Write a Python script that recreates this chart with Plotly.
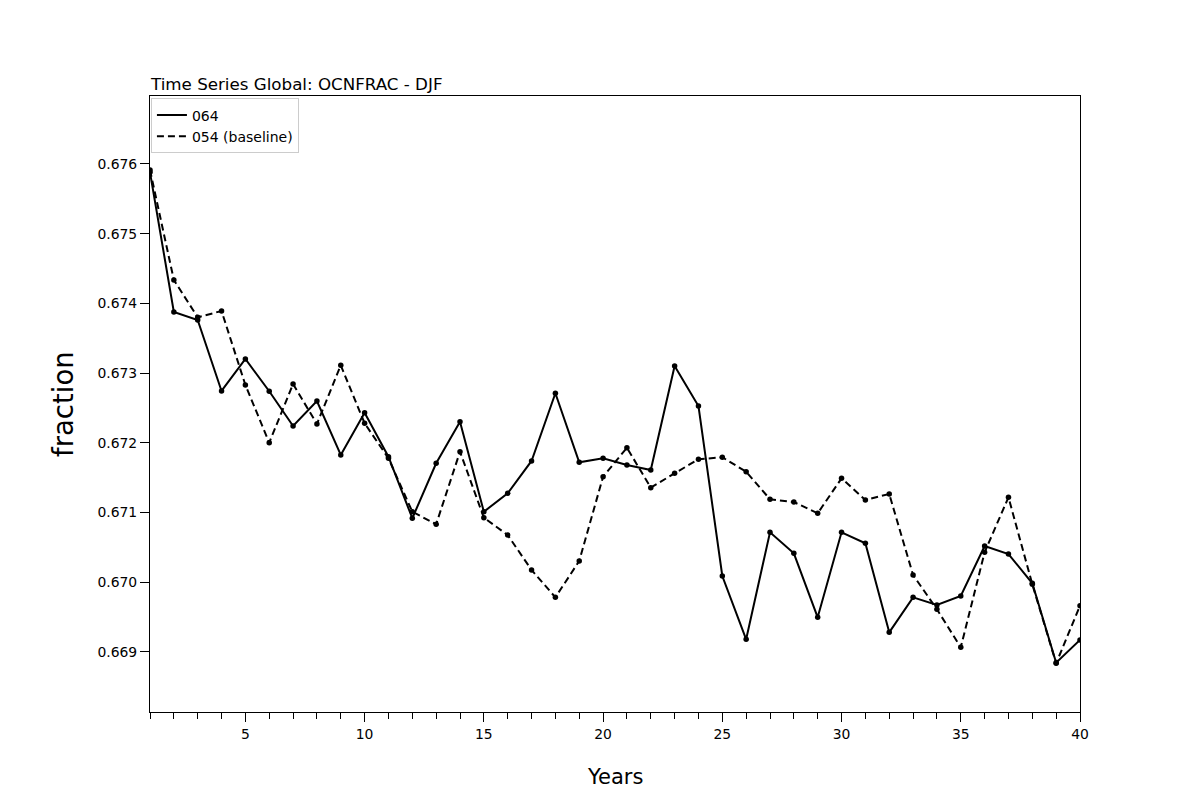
import plotly.graph_objects as go

years = list(range(1, 41))

run_064 = [0.67588, 0.673877, 0.673762, 0.672744, 0.673203, 0.672740, 0.672242, 0.672600,
           0.671826, 0.672432, 0.671801, 0.670918, 0.671707, 0.672303, 0.671012, 0.671276,
           0.671740, 0.672711, 0.671721, 0.671778, 0.671682, 0.671610, 0.673102, 0.672528,
           0.670090, 0.669182, 0.670717, 0.670415, 0.669497, 0.670717, 0.670559, 0.669282,
           0.669784, 0.669674, 0.669803, 0.670520, 0.670405, 0.669985, 0.668846, 0.669172]

run_054 = [0.675914, 0.674336, 0.673801, 0.673891, 0.672830, 0.672002, 0.672844, 0.672270,
           0.673112, 0.672280, 0.671778, 0.671012, 0.670832, 0.671873, 0.670926, 0.670678,
           0.670176, 0.669784, 0.670305, 0.671514, 0.671930, 0.671357, 0.671563, 0.671764,
           0.671793, 0.671586, 0.671190, 0.671151, 0.670989, 0.671491, 0.671180, 0.671266,
           0.670104, 0.669612, 0.669067, 0.670430, 0.671219, 0.669971, 0.668837, 0.669664]

series_names = ["064", "054 (baseline)"]
y_ticks = [0.669, 0.670, 0.671, 0.672, 0.673, 0.674, 0.675, 0.676]
x_ticks = [5, 10, 15, 20, 25, 30, 35, 40]

FONT = "DejaVu Sans"

fig = go.Figure()
for name, vals, dash in [(series_names[0], run_064, "solid"), (series_names[1], run_054, "7px,4px")]:
    fig.add_trace(go.Scatter(
        x=years, y=vals, name=name, mode="lines",
        line=dict(color="black", width=2, dash=dash),
        legendgroup=name,
    ))
    fig.add_trace(go.Scatter(
        x=years, y=vals, name=name, mode="markers",
        marker=dict(color="black", size=5.5),
        showlegend=False, legendgroup=name,
    ))

fig.update_layout(
    width=1200, height=800,
    margin=dict(l=142, r=128, t=88, b=96),
    paper_bgcolor="white", plot_bgcolor="white",
    font=dict(family=FONT, color="black", size=14),
    showlegend=True,
    legend=dict(
        x=0.001, y=0.996, xanchor="left", yanchor="top",
        bordercolor="#cccccc", borderwidth=1, bgcolor="rgba(255,255,255,0.8)",
        font=dict(family=FONT, size=14), tracegroupgap=0, itemwidth=30,
    ),
    xaxis=dict(
        range=[1, 40], tickvals=x_ticks, ticktext=[str(v) for v in x_ticks],
        ticks="outside", ticklen=9, tickwidth=1, tickcolor="black",
        minor=dict(dtick=1, tick0=0, ticks="outside", ticklen=6, tickcolor="black", tickwidth=1),
        showline=True, linecolor="black", linewidth=1, mirror=True,
        showgrid=False, zeroline=False,
        tickfont=dict(family=FONT, size=13.9),
    ),
    yaxis=dict(
        range=[0.668139, 0.676975], tickvals=y_ticks,
        ticktext=[f"{v:.3f}" for v in y_ticks],
        ticks="outside", ticklen=9, tickwidth=1, tickcolor="black",
        showline=True, linecolor="black", linewidth=1, mirror=True,
        showgrid=False, zeroline=False,
        tickfont=dict(family=FONT, size=13.9),
    ),
    annotations=[
        dict(text="Time Series Global: OCNFRAC - DJF", xref="paper", yref="paper",
             x=0, y=1, xanchor="left", yanchor="bottom", yshift=0, xshift=-2, showarrow=False,
             font=dict(family=FONT, size=16.7)),
        dict(text="fraction", xref="paper", yref="paper", x=0, y=0.5,
             xanchor="center", yanchor="middle", xshift=-87, textangle=-90,
             showarrow=False, font=dict(family=FONT, size=27.5)),
        dict(text="Years", xref="paper", yref="paper", x=0.5, y=0,
             xanchor="center", yanchor="middle", yshift=-65,
             showarrow=False, font=dict(family=FONT, size=21)),
    ],
)

fig.write_html("out.html")
